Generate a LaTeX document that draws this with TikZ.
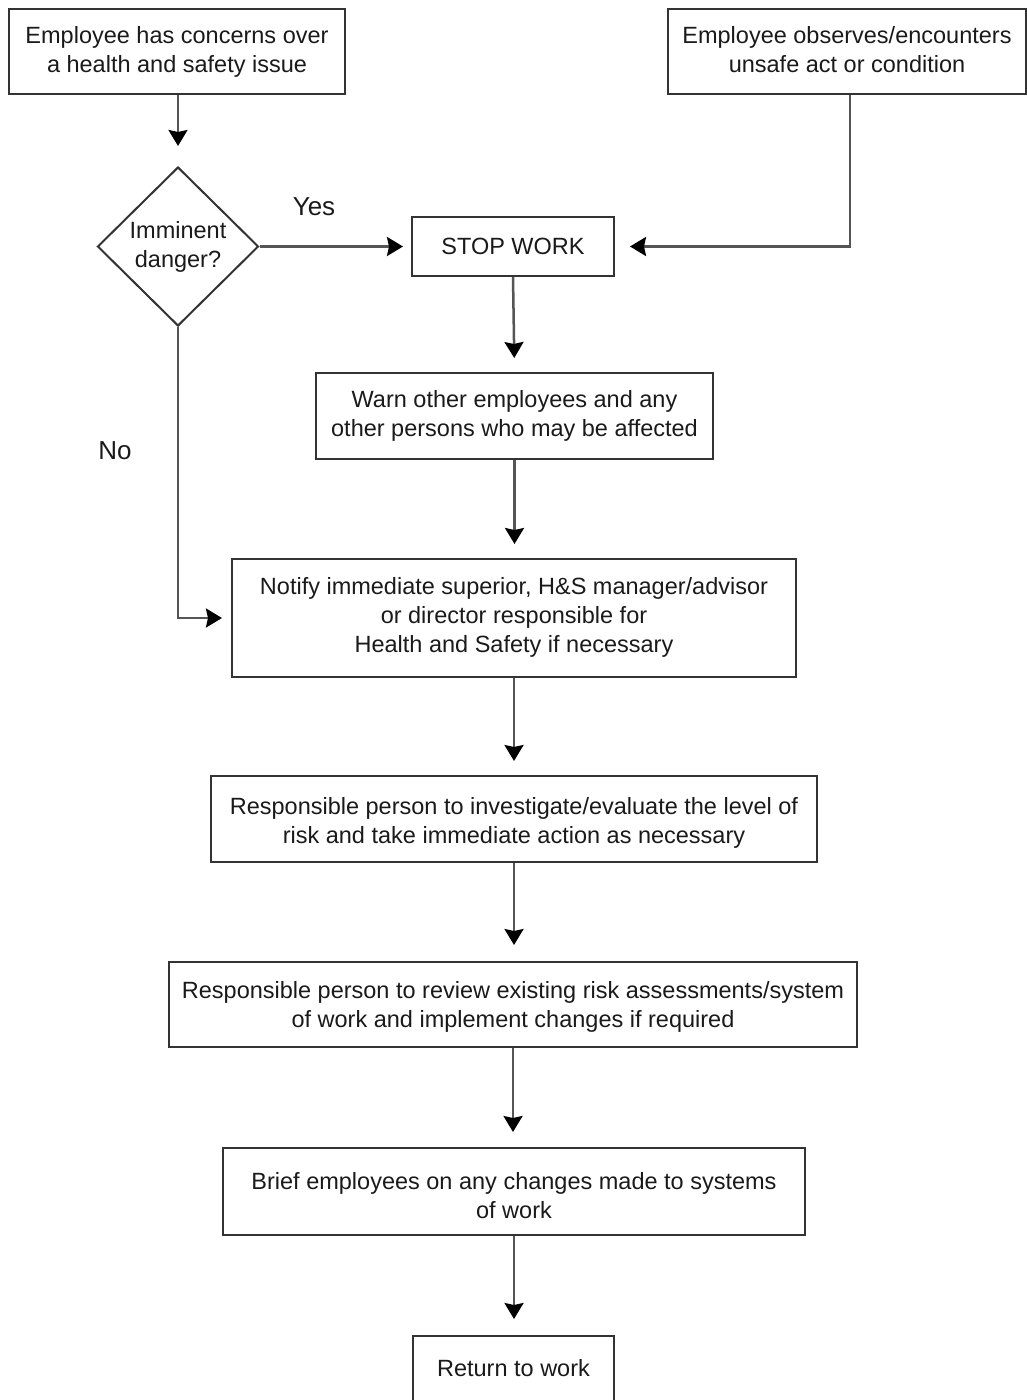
\documentclass[tikz,border=0pt]{standalone}
\usepackage{fontspec}
\setmainfont{Liberation Sans}
\usetikzlibrary{shapes.geometric,arrows.meta,positioning}
\definecolor{boxline}{HTML}{333333}
\definecolor{conn}{HTML}{555555}
\definecolor{txt}{HTML}{1A1A1A}
\newcommand\liftrule[1]{\rule{0pt}{#1}}
\begin{document}
\begin{tikzpicture}[x=1pt,y=-1pt,
  box/.style={draw=boxline,line width=2pt,rectangle,align=center,inner sep=0pt,
    text=txt,font=\fontsize{23.5}{29}\selectfont},
  decision/.style={draw=boxline,line width=2pt,diamond,align=center,inner sep=0pt,
    text=txt,font=\fontsize{23.5}{29}\selectfont,minimum width=161pt,minimum height=159pt},
  lbl/.style={text=txt,font=\fontsize{26}{30}\selectfont,inner sep=0pt},
  conn/.style={draw=conn,line width=2.5pt,-{Stealth[length=16pt,width=19pt,inset=2pt,color=black]}}
]
\useasboundingbox (0,0) rectangle (1027,1400);
\clip (0,0) rectangle (1027,1400);
\fill[white] (0,0) rectangle (1027,1400);

\node[box,minimum width=336pt,minimum height=85pt] (b1) at (177,51.5)
  {\liftrule{22.3pt}Employee has concerns over\\a health and safety issue\strut};
\node[box,minimum width=358pt,minimum height=85pt] (b2) at (847,51.5)
  {\liftrule{22.3pt}Employee observes/encounters\\unsafe act or condition\strut};
\node[decision] (d) at (178,246.5) {Imminent\\danger?};
\node[box,minimum width=202pt,minimum height=59pt] (stop) at (513,246.5) {STOP WORK};
\node[box,minimum width=397pt,minimum height=86pt] (warn) at (514.5,416)
  {\liftrule{21.3pt}Warn other employees and any\\other persons who may be affected\strut};
\node[box,minimum width=564pt,minimum height=118pt] (notify) at (514,618)
  {\strut Notify immediate superior, H\&S manager/advisor\\or director responsible for\\Health and Safety if necessary\strut};
\node[box,minimum width=606pt,minimum height=86pt] (inv) at (514,819)
  {\liftrule{28.3pt}Responsible person to investigate/evaluate the level of\\risk and take immediate action as necessary\strut};
\node[box,minimum width=688pt,minimum height=85pt] (rev) at (513,1004.5)
  {\liftrule{26.3pt}Responsible person to review existing risk assessments/system\\of work and implement changes if required\strut};
\node[box,minimum width=582pt,minimum height=87pt] (brief) at (514,1191.5)
  {\liftrule{34.3pt}Brief employees on any changes made to systems\\of work\strut};
\node[box,minimum width=201pt,minimum height=70pt] (ret) at (513.5,1371)
  {\strut Return to work\strut};

\node[lbl] (yes) at (314,207) {Yes};
\node[lbl] (no) at (115,451) {No};

\coordinate (b2out) at ([xshift=3pt]b2.south);
\coordinate (nocorner) at (d.south |- 0,618);

\draw[conn,shorten >=20pt] (b1.south -| d.north) -- (d.north);
\draw[conn,shorten >=8pt] (d.east) -- (stop.west);
\draw[conn,shorten >=15pt] (b2out) |- (stop.east);
\draw[conn,shorten >=9pt] (d.south) -- (nocorner) -- (nocorner -| notify.west);
\draw[conn,shorten >=14pt] (stop.south) -- (warn.north);
\draw[conn,shorten >=14pt] (warn.south) -- (warn.south |- notify.north);
\draw[conn,shorten >=14pt] (notify.south) -- (notify.south |- inv.north);
\draw[conn,shorten >=16pt] (inv.south) -- (inv.south |- rev.north);
\draw[conn,shorten >=15pt] (rev.south) -- (rev.south |- brief.north);
\draw[conn,shorten >=16pt] (brief.south) -- (brief.south |- ret.north);
\end{tikzpicture}
\end{document}
